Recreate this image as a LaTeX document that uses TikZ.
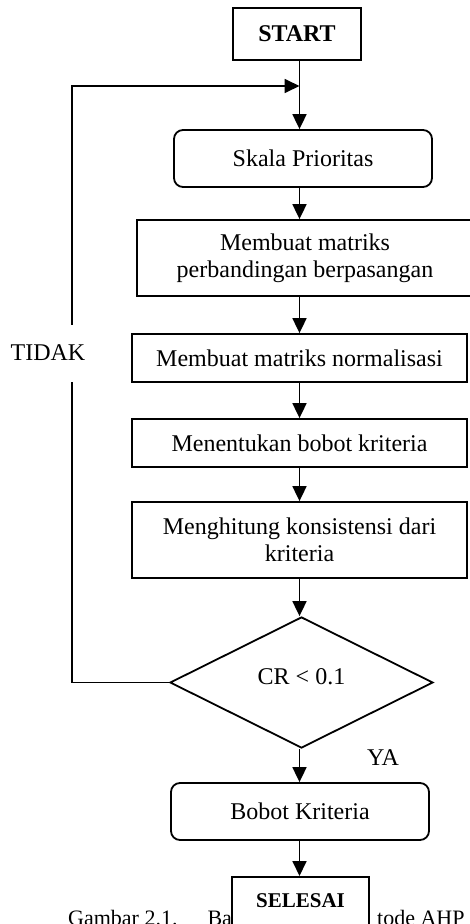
\documentclass[tikz,border=0pt]{standalone}
\usepackage{fontspec}
\setmainfont{Liberation Serif}
\usetikzlibrary{arrows.meta,shapes.geometric}
\begin{document}
\begin{tikzpicture}[x=1pt,y=-1pt,
  every node/.style={font=\fontsize{24}{27}\selectfont},
  ln/.style={line width=1.8pt},
  arr/.style={ln,-{Triangle[length=15pt,width=14pt]}},
  procbox/.style={draw,ln,rectangle,inner sep=0pt,align=center},
  roundbox/.style={procbox,rounded corners=9pt},
]
\useasboundingbox (0,0) rectangle (470,924);
\clip (0,0) rectangle (470,924);

\node[procbox,minimum width=128,minimum height=52,font=\fontsize{24}{27}\selectfont\bfseries] (start) at (297,34) {START};
\node[roundbox,minimum width=258,minimum height=57] (skala) at (303,158.5) {Skala Prioritas};
\node[procbox,minimum width=336,minimum height=76] (pair) at (305,258) {Membuat matriks\\perbandingan berpasangan};
\node[procbox,minimum width=335,minimum height=48] (norm) at (299.5,358) {Membuat matriks normalisasi};
\node[procbox,minimum width=335,minimum height=48] (bobot) at (299.5,443) {Menentukan bobot kriteria};
\node[procbox,minimum width=335,minimum height=76] (kons) at (299.5,540) {Menghitung konsistensi dari\\kriteria};
\node[draw,ln,diamond,inner sep=0pt,minimum width=263,minimum height=131] (cr) at (301.5,682.5) {\smash{\raisebox{-1.5pt}{CR < 0.1}}};
\node[roundbox,minimum width=258,minimum height=57] (hasil) at (300,811.5) {Bobot Kriteria};

\node[anchor=base west,inner sep=0pt,font=\fontsize{22}{26}\selectfont] (capL) at (68,925) {Gambar 2.1.\hspace{30pt}Ba};
\node[anchor=base west,inner sep=0pt,font=\fontsize{22}{26}\selectfont] (capR) at (377,925) {tode AHP};
\node[procbox,fill=white,anchor=north,minimum width=137,text height=31pt,text depth=69pt,font=\fontsize{21}{24}\selectfont\bfseries] (selesai) at (300.5,876) {SELESAI};

\coordinate (ax) at (299.5,0);
\coordinate (lp) at (72,86);
\draw[arr] (start.south -| ax) -- (skala.north -| ax);
\draw[arr] (skala.south -| ax) -- (pair.north -| ax);
\draw[arr] (pair.south -| ax) -- (norm.north -| ax);
\draw[arr] (norm.south -| ax) -- (bobot.north -| ax);
\draw[arr] (bobot.south -| ax) -- (kons.north -| ax);
\draw[arr] (kons.south -| ax) -- (cr.north -| ax);
\draw[arr] (cr.south -| ax) -- (hasil.north -| ax);
\draw[arr] (hasil.south -| ax) -- (selesai.north -| ax);
\draw[arr] (cr.west) -| (lp) -- (lp -| ax);

\node[fill=white,inner xsep=1pt,inner ysep=0pt,minimum height=57] (tidak) at (48,353) {TIDAK};
\node (ya) at (383,758) {YA};
\end{tikzpicture}
\end{document}
